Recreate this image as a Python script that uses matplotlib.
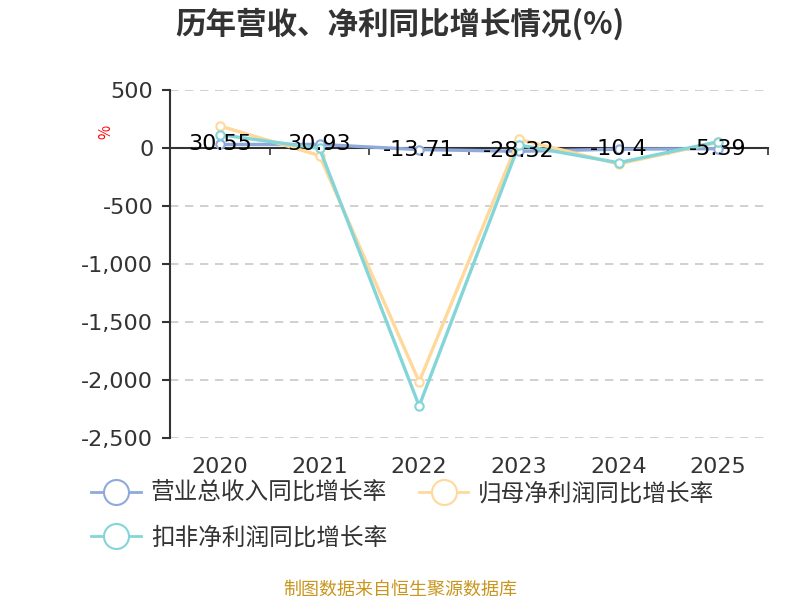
import matplotlib.pyplot as plt
from matplotlib.lines import Line2D
from matplotlib.ticker import FuncFormatter, FixedLocator

plt.rcParams['font.family'] = ['Noto Sans CJK SC', 'DejaVu Sans']
plt.rcParams['axes.unicode_minus'] = False

years = ['2020', '2021', '2022', '2023', '2024', '2025']
revenue_yoy = [30.55, 30.93, -13.71, -28.32, -10.4, -5.39]
net_profit_yoy = [190, -65, -2015, 75, -138, 50]
deducted_profit_yoy = [115, -3, -2224, 26, -127, 54]

series_names = ['营业总收入同比增长率', '归母净利润同比增长率', '扣非净利润同比增长率']
colors = ['#8EA9DC', '#FFD89B', '#83D5D8']
num_font = 'DejaVu Sans'

fig = plt.figure(figsize=(8, 6), dpi=100)
ax = fig.add_axes([0.2125, 0.27, 0.7475, 0.58])

x = list(range(len(years)))
for vals, c in [(revenue_yoy, colors[0]), (net_profit_yoy, colors[1]),
                (deducted_profit_yoy, colors[2])]:
    ax.plot(x, vals, color=c, lw=2.4, marker='o', ms=6,
            mfc='white', mec=c, mew=1.5, zorder=3)

# data labels for revenue growth
for xi, v in zip(x, revenue_yoy):
    ax.text(xi, v, f'{v:g}', ha='center', va='center', fontsize=16,
            family=num_font, color='black', zorder=5)

ax.set_xlim(-0.5, len(years) - 0.5)
ax.set_ylim(-2500, 500)
ax.yaxis.set_major_locator(FixedLocator(range(-2500, 501, 500)))
ax.yaxis.set_major_formatter(FuncFormatter(lambda v, p: f'{int(v):,}'))
ax.grid(axis='y', linestyle=(0, (5, 4)), color='#c8c8c8', lw=1.2)
ax.set_axisbelow(True)

for s in ['top', 'right']:
    ax.spines[s].set_visible(False)
ax.spines['bottom'].set_position(('data', 0))
ax.spines['bottom'].set_color('#333333')
ax.spines['bottom'].set_linewidth(1.5)
ax.spines['left'].set_color('#333333')
ax.spines['left'].set_linewidth(1.5)

ax.set_xticks([i - 0.5 for i in range(len(years) + 1)])
ax.set_xticklabels([])
ax.tick_params(axis='x', direction='out', length=5, width=1.2, color='#333333')
ax.tick_params(axis='y', direction='out', length=6, width=1.5, color='#333333',
               labelsize=16, labelcolor='#333333', pad=6)
for lbl in ax.get_yticklabels():
    lbl.set_family(num_font)

for xi, yr in zip(x, years):
    ax.text(xi, -0.055, yr, transform=ax.get_xaxis_transform(), ha='center',
            va='top', fontsize=16, family=num_font, color='#333333')

fig.text(0.1325, 0.78, '%', color='red', fontsize=11, rotation=90,
         ha='center', va='center')

fig.text(0.5, 0.96, '历年营收、净利同比增长情况(%)', ha='center', va='center',
         fontsize=22, fontweight='bold', color='#333333')

# legend: row 1 = series 0, 1; row 2 = series 2
handles = [Line2D([0], [0], color=c, lw=2, marker='o', ms=18, mfc='white',
                  mec=c, mew=1.5) for c in colors]
order = [0, 2, 1]
fig.legend([handles[i] for i in order], [series_names[i] for i in order],
           loc='upper left', bbox_to_anchor=(0.0875, 0.232),
           ncol=2, frameon=False, fontsize=17, handlelength=2.1,
           handletextpad=0.42, columnspacing=1.35, labelspacing=0.9,
           labelcolor='#333333')

fig.text(0.5, 0.017, '制图数据来自恒生聚源数据库', ha='center', va='center',
         fontsize=13, color='#C8961E')

fig.savefig('out.png', dpi=100)
